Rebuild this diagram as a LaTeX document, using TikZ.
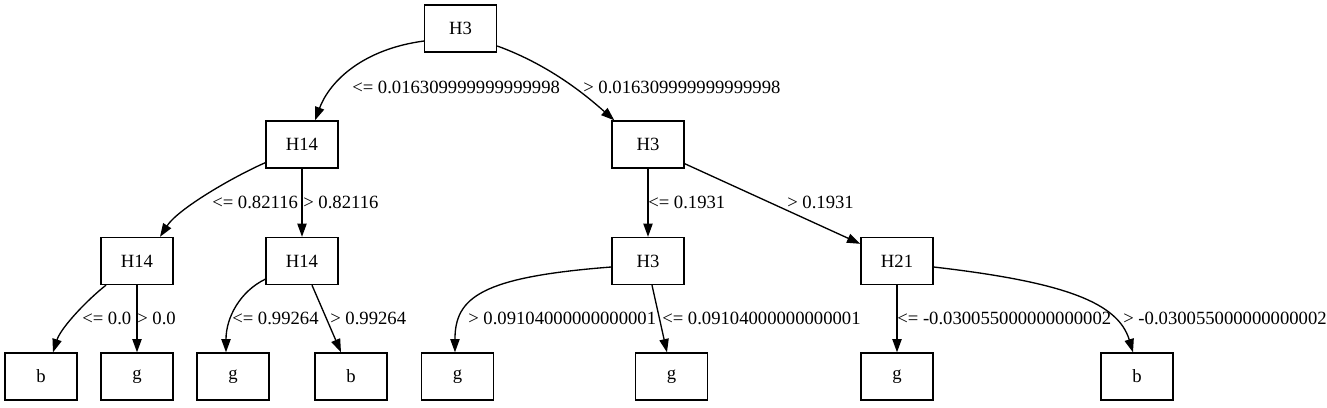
\documentclass[tikz,border=0pt]{standalone}
\usepackage{fontspec}
\setmainfont{Liberation Serif}
\usetikzlibrary{arrows.meta}

\begin{document}
\begin{tikzpicture}[x=0.75pt,y=-0.75pt,>={Triangle[length=10pt,width=7pt]},
  box/.style={draw,line width=1pt,minimum width=54pt,minimum height=35.25pt,inner sep=0pt,font=\fontsize{14pt}{16pt}\selectfont},
  cond/.style={anchor=west,inner sep=0pt,font=\fontsize{14pt}{16pt}\selectfont},
  edge/.style={->,line width=1pt}]
\fill[white] (0,0) rectangle (1327,407);
% split nodes
\node[box] (r) at (460.5,28.5) {H3};
\node[box] (a) at (302,144.5) {H14};
\node[box] (b) at (648,144.5) {H3};
\node[box] (c) at (137,261) {H14};
\node[box] (d) at (302,261) {H14};
\node[box] (e) at (648,261) {H3};
\node[box] (f) at (897,261) {H21};
% leaves
\node[box] (l1) at (41,376.5) {b};
\node[box] (l2) at (137,376.5) {g};
\node[box] (l3) at (233,376.5) {g};
\node[box] (l4) at (351,376.5) {b};
\node[box] (l5) at (457.5,376.5) {g};
\node[box] (l6) at (671.5,376.5) {g};
\node[box] (l7) at (897,376.5) {g};
\node[box] (l8) at (1137,376.5) {b};
% branches
\draw[edge] ([yshift=-9.4pt]r.west) .. controls +(-60,8) and +(15,-40) .. ([xshift=9.75pt]a.north);
\draw[edge] ([yshift=-13.1pt]r.east) .. controls +(55,20) and +(-25,-22) .. ([xshift=2.25pt]b.north west);
\draw[edge] ([yshift=4.5pt]a.south west) .. controls +(-32,14) and +(18,-28) .. ([xshift=17.25pt]c.north);
\draw[edge] (a) -- (d);
\draw[edge] (b) -- (e);
\draw[edge] ([yshift=3.75pt]b.south east) -- ([yshift=-5.25pt]f.north west);
\draw[edge] ([xshift=-23.25pt]c.south) .. controls +(-18,14) and +(8,-25) .. ([xshift=9pt]l1.north);
\draw[edge] (c) -- (l2);
\draw[edge] ([yshift=4.5pt]d.south west) .. controls +(-25,12) and +(0,-35) .. ([xshift=-5.25pt]l3.north);
\draw[edge] ([xshift=7.5pt]d.south) -- ([xshift=-7.5pt]l4.north);
\draw[edge] ([yshift=-4.5pt]e.west) .. controls +(-130,10) and +(0,-55) .. ([xshift=-1.9pt]l5.north);
\draw[edge] ([xshift=3pt]e.south) -- ([xshift=-3.4pt]l6.north);
\draw[edge] (f) -- (l7);
\draw[edge] ([yshift=-4.5pt]f.east) .. controls +(130,15) and +(-15,-50) .. ([xshift=-3pt]l8.north);
% conditions
\node[cond] (cra) at (352,87.5) {<= 0.016309999999999998};
\node[cond] (crb) at (583,87.5) {> 0.016309999999999998};
\node[cond] (cac) at (212,202) {<= 0.82116};
\node[cond] (cad) at (303,202) {> 0.82116};
\node[cond] (cbe) at (648,202) {<= 0.1931};
\node[cond] (cbf) at (787,202) {> 0.1931};
\node[cond] (cc1) at (82,318) {<= 0.0};
\node[cond] (cc2) at (137,318) {> 0.0};
\node[cond] (cd3) at (232,318) {<= 0.99264};
\node[cond] (cd4) at (330,318) {> 0.99264};
\node[cond] (ce5) at (468,318) {> 0.09104000000000001};
\node[cond] (ce6) at (662,318) {<= 0.09104000000000001};
\node[cond] (cf7) at (897,318) {<= -0.030055000000000002};
\node[cond] (cf8) at (1123,318) {> -0.030055000000000002};
\end{tikzpicture}
\end{document}
